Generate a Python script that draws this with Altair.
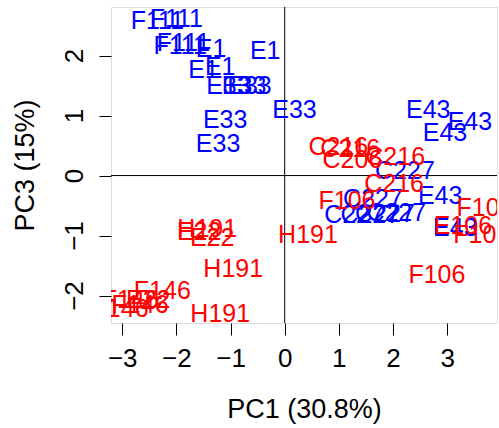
import altair as alt
import pandas as pd

# Sample labels and PCA scores (PC1, PC3)
blue_labels = ["F111", "F111", "F111", "F111", "E1", "E1", "E1", "E1",
               "E33", "E33", "E33", "E33", "E33", "E33",
               "E43", "E43", "E43", "E43", "E43",
               "C227", "C227", "C227", "C227", "C227", "C227"]
blue_pc1 = [-2.35, -2.00, -1.93, -1.87, -1.36, -0.36, -1.50, -1.19,
            -1.04, -0.75, -0.65, 0.18, -1.10, -1.23,
            2.65, 3.42, 2.96, 2.87, 3.15,
            2.22, 1.63, 1.28, 1.58, 1.85, 2.06]
blue_pc3 = [2.58, 2.61, 2.16, 2.21, 2.11, 2.08, 1.76, 1.81,
            1.49, 1.49, 1.49, 1.09, 0.93, 0.53,
            1.09, 0.89, 0.71, -0.34, -0.88,
            0.08, -0.39, -0.66, -0.66, -0.64, -0.63]

red_labels = ["C216", "C216", "C206", "C216", "C216",
              "F106", "F106", "F106", "E106", "F106",
              "H191", "H191", "H191", "H191", "E22", "E22",
              "F146", "F146", "F146", "E22", "F146"]
red_pc1 = [0.99, 1.21, 1.25, 2.04, 2.02,
           1.15, 3.70, 3.64, 3.29, 2.81,
           0.43, -0.95, -1.19, -1.43, -1.58, -1.34,
           -2.26, -2.85, -2.67, -2.52, -3.04]
red_pc3 = [0.48, 0.44, 0.26, 0.31, -0.14,
           -0.43, -0.54, -0.99, -0.84, -1.66,
           -0.99, -1.56, -2.31, -0.89, -0.94, -1.04,
           -1.93, -2.08, -2.16, -2.08, -2.23]

x_ticks = [-3, -2, -1, 0, 1, 2, 3]
y_ticks = [-2, -1, 0, 1, 2]

df = pd.DataFrame({
    "label": blue_labels + red_labels,
    "pc1": blue_pc1 + red_pc1,
    "pc3": blue_pc3 + red_pc3,
    "group": ["blue"] * len(blue_labels) + ["red"] * len(red_labels),
    "order": list(range(len(blue_labels) + len(red_labels))),
})

FONT = "Liberation Sans"
xscale = alt.Scale(domain=[-3.207, 3.92], nice=False, zero=False)
yscale = alt.Scale(domain=[-2.458, 2.81], nice=False, zero=False)

xaxis = alt.Axis(values=x_ticks, format="d", title="PC1 (30.8%)", tickSize=12, labelFontSize=26,
                 labelPadding=10, titleFontSize=27, titleY=86, titleBaseline="middle",
                 domain=False, grid=False, tickColor="black", labelColor="black",
                 titleColor="black", titleFontWeight="normal", labelFont=FONT, titleFont=FONT)
yaxis = alt.Axis(values=y_ticks, format="d", title="PC3 (15%)", tickSize=12, labelFontSize=26,
                 labelPadding=12, labelAngle=270, labelAlign="center", labelBaseline="bottom",
                 titleFontSize=27, titleX=-86, titleY=158, titleAngle=270,
                 titleAlign="center", titleBaseline="middle",
                 domain=False, grid=False, tickColor="black", labelColor="black",
                 titleColor="black", titleFontWeight="normal", labelFont=FONT, titleFont=FONT)

text = alt.Chart(df).mark_text(fontSize=25, font=FONT, align="center", baseline="middle", clip=True).encode(
    x=alt.X("pc1:Q", scale=xscale, axis=xaxis),
    y=alt.Y("pc3:Q", scale=yscale, axis=yaxis),
    text="label:N",
    color=alt.Color("group:N", scale=alt.Scale(domain=["blue", "red"], range=["#0000FF", "#FF0000"]), legend=None),
    order="order:Q",
)

vline = alt.Chart(pd.DataFrame({"v": [0]})).mark_rule(color="black", strokeWidth=1).encode(
    x=alt.X("v:Q", scale=xscale))
hline = alt.Chart(pd.DataFrame({"h": [0]})).mark_rule(color="black", strokeWidth=1).encode(
    y=alt.Y("h:Q", scale=yscale))

chart = alt.layer(vline, hline, text).properties(
    width=386, height=316,
    autosize=alt.AutoSizeParams(type="none"),
    padding={"left": 111, "top": 7, "right": 2, "bottom": 105},
).configure_view(stroke="black", strokeWidth=1.2).configure(background="white")

chart.save("out.html", embed_options={"renderer": "svg", "actions": False})
